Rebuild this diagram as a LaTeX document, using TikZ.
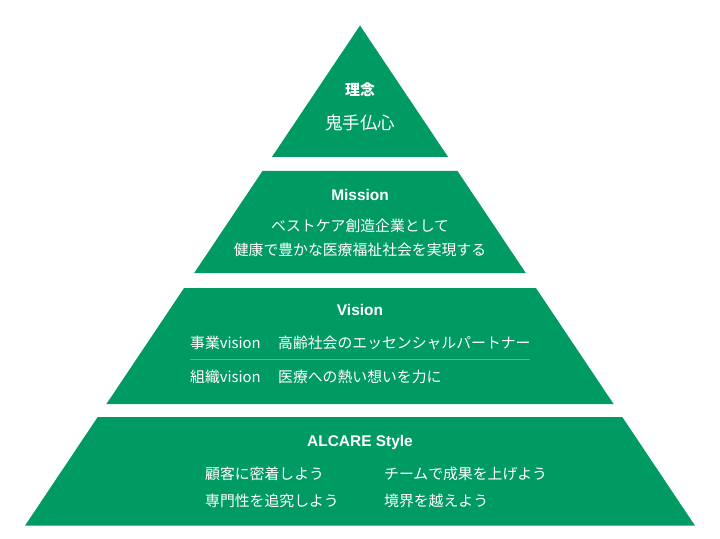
\documentclass[tikz,border=0pt]{standalone}
\usepackage{fontspec}
\newfontfamily\jpfont{Noto Sans CJK JP}
\newfontfamily\latfont{Liberation Sans}
\definecolor{pyrgreen}{HTML}{009B63}
\begin{document}
\begin{tikzpicture}[x=1bp,y=-1bp,
  layer/.style={fill=pyrgreen,draw=none},
  title/.style={text=white,font=\latfont\bfseries\fontsize{15.5}{17}\selectfont,inner sep=0pt,text height=11.2bp,text depth=0pt},
  jtitle/.style={text=white,font=\jpfont\bfseries\fontsize{15}{17}\selectfont,inner sep=0pt},
  body/.style={text=white,font=\jpfont\fontsize{14.9}{17}\selectfont,inner sep=0pt},
  big/.style={text=white,font=\jpfont\fontsize{17.5}{20}\selectfont,inner sep=0pt}]
\useasboundingbox (0,0) rectangle (720,539);
% layers
\fill[layer] (360,25.5) -- (448.1,157) -- (271.9,157) -- cycle;
\fill[layer] (262.5,171) -- (457.5,171) -- (525.8,273) -- (194.2,273) -- cycle;
\fill[layer] (184.1,288) -- (535.9,288) -- (613.6,404) -- (106.4,404) -- cycle;
\fill[layer] (97.7,417) -- (622.3,417) -- (695,525.7) -- (25,525.7) -- cycle;
% layer 1
\node[jtitle] (rinen) at (360,90) {理念};
\node[big] (kishu) at (360,123) {鬼手仏心};
% layer 2
\node[title] (mission) at (360,194.5) {Mission};
\node[body] (m1) at (360,226) {ベストケア創造企業として};
\node[body] (m2) at (360,250) {健康で豊かな医療福祉社会を実現する};
% layer 3
\node[title] (vision) at (360,310) {Vision};
\node[body,anchor=west] (v1a) at (190,343) {事業vision};
\node[body,anchor=west] (v1b) at (278,343) {高齢社会のエッセンシャルパートナー};
\coordinate (dl) at (190,359.5);
\coordinate (dr) at (530,359.5);
\draw[white,opacity=0.3,line width=0.8bp] (dl) -- (dr);
\node[body,anchor=west] (v2a) at (190,377) {組織vision};
\node[body,anchor=west] (v2b) at (278,377) {医療への熱い想いを力に};
% layer 4
\node[title] (style) at (360,441) {ALCARE Style};
\node[body,anchor=west] (s1) at (205,474) {顧客に密着しよう};
\node[body,anchor=west] (s2) at (205,501) {専門性を追究しよう};
\node[body,anchor=west] (s3) at (384,474) {チームで成果を上げよう};
\node[body,anchor=west] (s4) at (384,501) {境界を越えよう};
\end{tikzpicture}
\end{document}
